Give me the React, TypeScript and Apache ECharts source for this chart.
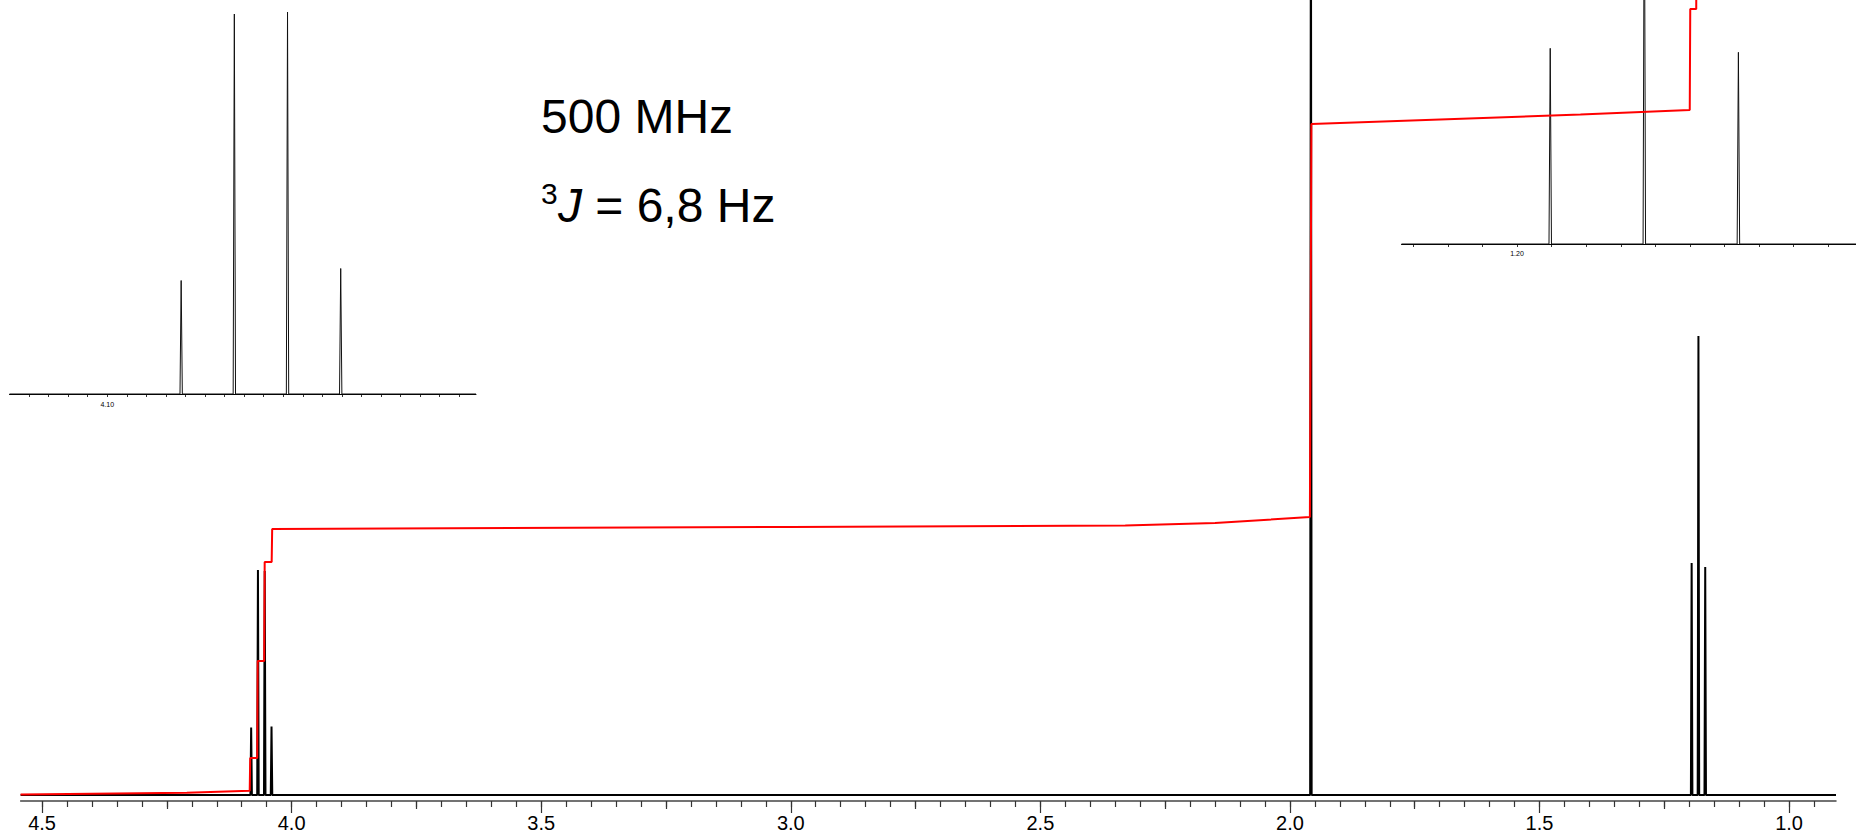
import React, { useEffect, useRef } from "react";
import * as echarts from "echarts";

// ---- data (ppm / intensity in plot units) ----
const quartetPpm = [4.0811, 4.0675, 4.0539, 4.0403];
const quartetHeights = [67.5, 225, 224, 68.5];
const singletPpm = [1.958];
const singletHeights = [1000];
const tripletPpm = [1.1952, 1.1816, 1.168];
const tripletHeights = [232, 459, 228];

const insetQuartetHeights = [113.5, 380, 382, 125.5];
const insetTripletHeights = [195.7, 392, 191.7];

const integralPpm = [
  4.543, 4.4, 4.21, 4.084, 4.083, 4.069, 4.068, 4.055, 4.054, 4.04, 4.039,
  3.0, 2.33, 2.15, 1.96, 1.957, 1.418, 1.199, 1.198, 1.186, 1.185, 1.17, 1.169, 0.906,
];
const integralValues = [
  0.5, 1.2, 2.2, 4.3, 37, 37, 134, 134, 233, 233, 266,
  268, 269.5, 272, 278, 671, 680.5, 685, 786, 786, 982, 982, 1080, 1082,
];

const majorTicks = [4.5, 4.0, 3.5, 3.0, 2.5, 2.0, 1.5, 1.0];
const mediumTicks = [4.25, 3.75, 3.25, 2.75, 2.25, 1.75, 1.25];
const minorTicks = Array.from({ length: 72 }, (_, i) => Math.round((4.5 - 0.05 * i) * 100) / 100);

const inset1Ticks = Array.from({ length: 23 }, (_, i) => Math.round((4.12 - 0.005 * i) * 1000) / 1000);
const inset1Labels = [4.1];
const inset2Ticks = Array.from({ length: 13 }, (_, i) => Math.round((1.215 - 0.005 * i) * 1000) / 1000);
const inset2Labels = [1.2];

const MAIN_RANGE = [0.906, 4.543];
const INSET1_RANGE = [4.0057, 4.125];
const INSET2_RANGE = [1.151, 1.2167];

function sticks(ppm: number[], heights: number[], hw: number) {
  const pts: number[][] = [];
  ppm.forEach((p, i) => {
    pts.push([p + hw, 0], [p, heights[i]], [p - hw, 0]);
  });
  return pts;
}

const FONT = "Liberation Sans, Arial, Helvetica, sans-serif";

export default function App() {
  const ref = useRef<HTMLDivElement>(null);
  useEffect(() => {
    if (!ref.current) return;
    const chart = echarts.init(ref.current, undefined, { renderer: "svg" });

    const mainData = [
      [MAIN_RANGE[1], 0],
      ...sticks(quartetPpm, quartetHeights, 0.0015),
      ...sticks(singletPpm, singletHeights, 0.0015),
      ...sticks(tripletPpm, tripletHeights, 0.0015),
      [MAIN_RANGE[0], 0],
    ];
    const inset1Data = [
      [INSET1_RANGE[1], 0],
      ...sticks(quartetPpm, insetQuartetHeights, 0.0003),
      [INSET1_RANGE[0], 0],
    ];
    const inset2Data = [
      [INSET2_RANGE[1], 0],
      ...sticks(tripletPpm, insetTripletHeights, 0.00018),
      [INSET2_RANGE[0], 0],
    ];
    const integralData = integralPpm.map((p, i) => [p, integralValues[i]]);

    const tickAxis = (grid: number, range: number[], ticks: number[], len: number) => ({
      type: "value",
      gridIndex: grid,
      min: range[0],
      max: range[1],
      inverse: true,
      position: "bottom",
      axisLine: { show: false, onZero: false },
      axisTick: { show: true, length: len, customValues: ticks, lineStyle: { color: "#333", width: 1.2 } },
      axisLabel: { show: false },
      splitLine: { show: false },
    });

    const option: any = {
      animation: false,
      backgroundColor: "#fff",
      grid: [
        { left: 20.6, right: 20, top: 0, height: 801, containLabel: false, outerBoundsMode: "none" },
        { left: 9.5, top: 0, width: 466.5, height: 394, containLabel: false, outerBoundsMode: "none" },
        { left: 1401.5, top: 0, width: 454.5, height: 244, containLabel: false, outerBoundsMode: "none" },
      ],
      xAxis: [
        {
          type: "value",
          gridIndex: 0,
          min: MAIN_RANGE[0],
          max: MAIN_RANGE[1],
          inverse: true,
          position: "bottom",
          axisLine: { show: true, onZero: false, lineStyle: { color: "#444", width: 1.5 } },
          axisTick: { show: true, length: 12, customValues: majorTicks, lineStyle: { color: "#333", width: 1.2 } },
          axisLabel: {
            show: true,
            customValues: majorTicks,
            formatter: (v: number) => v.toFixed(1),
            margin: 12,
            fontSize: 20,
            fontFamily: FONT,
            color: "#000",
          },
          splitLine: { show: false },
        },
        tickAxis(0, MAIN_RANGE, mediumTicks, 8),
        tickAxis(0, MAIN_RANGE, minorTicks, 6),
        {
          type: "value",
          gridIndex: 1,
          min: INSET1_RANGE[0],
          max: INSET1_RANGE[1],
          inverse: true,
          position: "bottom",
          axisLine: { show: true, onZero: false, lineStyle: { color: "#000", width: 1 } },
          axisTick: { show: true, length: 3, customValues: inset1Ticks, lineStyle: { color: "#000", width: 0.8 } },
          axisLabel: {
            show: true,
            customValues: inset1Labels,
            formatter: (v: number) => v.toFixed(2),
            margin: 7,
            fontSize: 7,
            fontFamily: FONT,
            color: "#000",
          },
          splitLine: { show: false },
        },
        {
          type: "value",
          gridIndex: 2,
          min: INSET2_RANGE[0],
          max: INSET2_RANGE[1],
          inverse: true,
          position: "bottom",
          axisLine: { show: true, onZero: false, lineStyle: { color: "#000", width: 1 } },
          axisTick: { show: true, length: 3, customValues: inset2Ticks, lineStyle: { color: "#000", width: 0.8 } },
          axisLabel: {
            show: true,
            customValues: inset2Labels,
            formatter: (v: number) => v.toFixed(2),
            margin: 6,
            fontSize: 7,
            fontFamily: FONT,
            color: "#000",
          },
          splitLine: { show: false },
        },
      ],
      yAxis: [
        { type: "value", gridIndex: 0, min: -6, max: 795, show: false },
        { type: "value", gridIndex: 1, min: 0, max: 394, show: false },
        { type: "value", gridIndex: 2, min: 0, max: 244, show: false },
      ],
      series: [
        {
          type: "line",
          xAxisIndex: 0,
          yAxisIndex: 0,
          data: mainData,
          symbol: "none",
          silent: true,
          clip: true,
          z: 2,
          lineStyle: { color: "#000", width: 2, join: "bevel" },
        },
        {
          type: "line",
          xAxisIndex: 3,
          yAxisIndex: 1,
          data: inset1Data,
          symbol: "none",
          silent: true,
          clip: true,
          z: 2,
          lineStyle: { color: "#111", width: 1, join: "bevel" },
        },
        {
          type: "line",
          xAxisIndex: 4,
          yAxisIndex: 2,
          data: inset2Data,
          symbol: "none",
          silent: true,
          clip: true,
          z: 2,
          lineStyle: { color: "#111", width: 1, join: "bevel" },
        },
        {
          type: "line",
          xAxisIndex: 0,
          yAxisIndex: 0,
          data: integralData,
          symbol: "none",
          silent: true,
          clip: true,
          z: 3,
          lineStyle: { color: "#ff0000", width: 2 },
        },
      ],
      graphic: [
        {
          type: "text",
          x: 541,
          y: 116.7,
          style: { text: "500 MHz", fontSize: 48, fontFamily: FONT, fill: "#000", align: "left", verticalAlign: "middle" },
        },
        {
          type: "text",
          x: 541,
          y: 193.6,
          style: { text: "3", fontSize: 30, fontFamily: FONT, fill: "#000", align: "left", verticalAlign: "middle" },
        },
        {
          type: "text",
          x: 558,
          y: 205.9,
          style: {
            text: "J",
            fontSize: 48,
            fontStyle: "italic",
            fontFamily: FONT,
            fill: "#000",
            align: "left",
            verticalAlign: "middle",
          },
        },
        {
          type: "text",
          x: 595.3,
          y: 205.9,
          style: { text: "= 6,8 Hz", fontSize: 48, fontFamily: FONT, fill: "#000", align: "left", verticalAlign: "middle" },
        },
      ],
    };

    chart.setOption(option);
    return () => chart.dispose();
  }, []);

  return (
    <div
      ref={ref}
      style={{ position: "fixed", left: 0, top: 0, width: 1856, height: 839, background: "#fff" }}
    />
  );
}
